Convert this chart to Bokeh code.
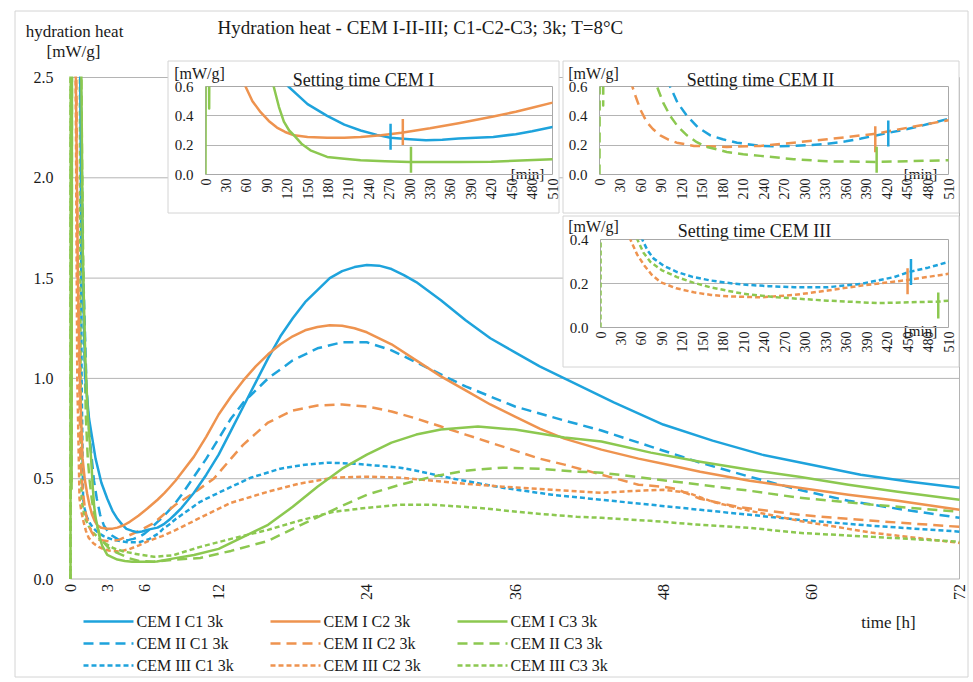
import math
from bokeh.plotting import figure
from bokeh.models import Range1d, LinearAxis, FixedTicker, PrintfTickFormatter, Grid
from bokeh.core.properties import value
from bokeh.embed import file_html
from bokeh.resources import INLINE

# ---------------- data ----------------
title_text = "Hydration heat - CEM I-II-III; C1-C2-C3; 3k; T=8°C"
y_label_1 = "hydration heat"
y_label_2 = "[mW/g]"
x_label = "time [h]"
inset_x_label = "[min]"
x_ticks = [0, 3, 6, 12, 24, 36, 48, 60, 72]
y_ticks = [0.0, 0.5, 1.0, 1.5, 2.0, 2.5]
inset_x_ticks = [0, 30, 60, 90, 120, 150, 180, 210, 240, 270, 300, 330, 360, 390, 420, 450, 480, 510]
inset_y_ticks_a = [0.0, 0.2, 0.4, 0.6]
inset_y_ticks_b = [0.0, 0.2, 0.4]
inset_titles = ["Setting time CEM I", "Setting time CEM II", "Setting time CEM III"]

series_names = ["CEM I C1 3k", "CEM I C2 3k", "CEM I C3 3k",
                "CEM II C1 3k", "CEM II C2 3k", "CEM II C3 3k",
                "CEM III C1 3k", "CEM III C2 3k", "CEM III C3 3k"]

# hours / mW/g  (2.7 = off the top of the 0-2.5 scale)
t_i_c1 = [0, 0.75, 0.85, 1.0, 1.2, 1.5, 2.03, 2.5, 2.98, 3.4, 3.8, 4.2, 4.53, 5.0, 5.4, 5.8, 6.2, 7.05, 7.6, 8.0, 8.5, 9.0, 10.0, 11.0, 12.0, 13.0, 14.0, 15.0, 16.0, 17.0, 18.0, 19.0, 20.0, 21.0, 22.0, 23.0, 24.0, 25.0, 26.0, 27.0, 28.0, 30.0, 32.0, 34.0, 36.0, 38.0, 40.0, 44.0, 48.0, 52.0, 56.0, 60.0, 64.0, 68.0, 72.0]
v_i_c1 = [2.7, 2.7, 2.2, 1.5, 1.0, 0.8, 0.6, 0.48, 0.40, 0.34, 0.30, 0.27, 0.25, 0.24, 0.233, 0.237, 0.245, 0.256, 0.275, 0.295, 0.324, 0.355, 0.43, 0.52, 0.62, 0.74, 0.86, 0.98, 1.10, 1.21, 1.30, 1.38, 1.44, 1.50, 1.535, 1.555, 1.565, 1.562, 1.545, 1.515, 1.48, 1.39, 1.29, 1.20, 1.13, 1.06, 1.00, 0.88, 0.77, 0.69, 0.62, 0.57, 0.52, 0.485, 0.455]

t_i_c2 = [0, 0.4, 0.6, 0.8, 0.98, 1.15, 1.35, 1.55, 1.75, 1.95, 2.17, 2.5, 2.98, 3.4, 3.8, 4.3, 4.8, 5.5, 6.2, 7.05, 7.6, 8.0, 8.5, 9.0, 10.0, 11.0, 12.0, 13.0, 14.0, 15.0, 16.0, 17.0, 18.0, 19.0, 20.0, 21.0, 22.0, 23.0, 24.0, 26.0, 28.0, 30.0, 32.0, 34.0, 36.0, 38.0, 40.0, 43.0, 46.0, 48.0, 51.0, 55.0, 59.0, 63.0, 67.0, 72.0]
v_i_c2 = [2.7, 2.7, 1.5, 0.9, 0.6, 0.5, 0.425, 0.365, 0.32, 0.29, 0.267, 0.255, 0.25, 0.251, 0.256, 0.268, 0.285, 0.315, 0.35, 0.395, 0.428, 0.455, 0.49, 0.53, 0.61, 0.71, 0.82, 0.91, 0.99, 1.06, 1.12, 1.17, 1.21, 1.24, 1.256, 1.265, 1.262, 1.25, 1.23, 1.17, 1.09, 1.01, 0.94, 0.87, 0.81, 0.75, 0.70, 0.645, 0.60, 0.575, 0.535, 0.49, 0.455, 0.42, 0.39, 0.345]

t_i_c3 = [0, 0.02, 0.06, 0.09, 0.12, 0.16, 0.85, 1.0, 1.2, 1.4, 1.55, 1.67, 1.8, 1.92, 2.05, 2.17, 2.35, 2.57, 2.98, 3.4, 3.8, 4.4, 5.0, 6.2, 7.0, 8.5, 10.0, 12.0, 14.0, 16.0, 18.0, 20.0, 22.0, 24.0, 26.0, 28.0, 30.0, 33.0, 36.0, 38.0, 40.0, 43.0, 47.0, 51.0, 55.0, 59.0, 63.0, 67.0, 72.0]
v_i_c3 = [0.0, 2.7, 2.7, 0.45, 2.7, 2.7, 2.7, 1.6, 1.1, 0.82, 0.69, 0.6, 0.46, 0.36, 0.3, 0.267, 0.21, 0.165, 0.12, 0.108, 0.097, 0.09, 0.086, 0.086, 0.087, 0.104, 0.12, 0.15, 0.21, 0.27, 0.36, 0.46, 0.55, 0.62, 0.68, 0.72, 0.745, 0.76, 0.745, 0.725, 0.705, 0.685, 0.63, 0.585, 0.545, 0.51, 0.47, 0.435, 0.395]

t_ii_c1 = [0, 0.8, 1.0, 1.3, 1.5, 1.72, 1.9, 2.13, 2.4, 2.7, 3.0, 3.35, 3.92, 4.3, 4.73, 5.1, 5.55, 6.0, 6.37, 7.05, 7.5, 7.98, 8.5, 9.0, 10.0, 11.0, 12.0, 13.0, 14.0, 16.0, 18.0, 20.0, 22.0, 24.0, 26.0, 28.0, 30.0, 32.0, 34.0, 36.0, 40.0, 43.0, 47.0, 51.0, 55.0, 59.0, 63.0, 67.0, 72.0]
v_ii_c1 = [2.7, 2.7, 1.6, 0.95, 0.75, 0.6, 0.49, 0.40, 0.32, 0.267, 0.24, 0.217, 0.195, 0.192, 0.195, 0.2, 0.21, 0.226, 0.245, 0.285, 0.31, 0.342, 0.38, 0.42, 0.51, 0.6, 0.7, 0.8, 0.88, 1.0, 1.09, 1.15, 1.18, 1.18, 1.14, 1.08, 1.02, 0.96, 0.91, 0.86, 0.79, 0.74, 0.66, 0.58, 0.51, 0.445, 0.39, 0.35, 0.305]

t_ii_c2 = [0, 0.45, 0.6, 0.8, 0.87, 1.0, 1.15, 1.3, 1.48, 1.68, 1.88, 2.3, 3.1, 3.92, 4.73, 5.55, 6.73, 7.6, 8.5, 10.0, 11.6, 13.0, 14.0, 16.0, 18.0, 20.0, 22.0, 24.0, 26.0, 28.0, 30.0, 32.0, 34.0, 36.0, 38.0, 40.0, 43.0, 46.0, 48.0, 49.0, 51.0, 54.0, 59.0, 65.0, 72.0]
v_ii_c2 = [2.7, 2.7, 1.5, 0.6, 0.54, 0.44, 0.358, 0.31, 0.267, 0.238, 0.217, 0.195, 0.188, 0.195, 0.217, 0.24, 0.278, 0.324, 0.37, 0.43, 0.5, 0.6, 0.67, 0.78, 0.84, 0.865, 0.87, 0.86, 0.835, 0.8, 0.76, 0.72, 0.68, 0.64, 0.6, 0.57, 0.52, 0.47, 0.46, 0.45, 0.40, 0.36, 0.32, 0.29, 0.26]

t_ii_c3 = [0, 0.02, 0.06, 0.09, 0.12, 0.16, 0.85, 0.95, 1.1, 1.25, 1.4, 1.55, 1.72, 1.9, 2.13, 2.37, 2.62, 3.1, 3.5, 3.92, 4.73, 5.55, 6.73, 8.5, 10.5, 13.0, 16.0, 18.0, 21.3, 24.0, 26.7, 29.3, 32.0, 35.0, 38.0, 41.0, 43.0, 47.0, 51.0, 55.0, 59.0, 65.0, 72.0]
v_ii_c3 = [0.0, 2.7, 2.7, 0.47, 2.7, 2.7, 2.7, 2.0, 1.2, 0.8, 0.6, 0.49, 0.4, 0.33, 0.267, 0.22, 0.188, 0.154, 0.138, 0.127, 0.104, 0.09, 0.086, 0.097, 0.105, 0.14, 0.19, 0.25, 0.345, 0.42, 0.47, 0.51, 0.54, 0.555, 0.55, 0.535, 0.53, 0.5, 0.47, 0.44, 0.405, 0.37, 0.335]

t_iii_c1 = [0, 0.8, 0.9, 1.02, 1.15, 1.3, 1.55, 1.87, 2.25, 2.68, 3.1, 3.5, 4.1, 4.73, 5.55, 6.35, 7.17, 7.53, 8.0, 8.5, 10.5, 12.0, 14.6, 17.0, 19.0, 20.8, 23.0, 26.7, 28.0, 31.0, 35.0, 39.0, 43.0, 47.0, 51.0, 55.0, 59.0, 65.0, 72.0]
v_iii_c1 = [2.7, 2.7, 1.0, 0.4, 0.35, 0.313, 0.28, 0.252, 0.23, 0.214, 0.203, 0.195, 0.188, 0.183, 0.183, 0.198, 0.229, 0.252, 0.272, 0.298, 0.385, 0.43, 0.505, 0.55, 0.57, 0.58, 0.575, 0.555, 0.54, 0.5, 0.455, 0.42, 0.395, 0.37, 0.345, 0.32, 0.295, 0.265, 0.236]

t_iii_c2 = [0, 0.4, 0.55, 0.73, 0.9, 1.07, 1.25, 1.47, 1.85, 2.28, 2.7, 3.1, 3.92, 4.73, 5.55, 6.35, 7.42, 8.5, 10.5, 13.0, 16.0, 18.5, 21.3, 24.0, 26.7, 31.0, 35.0, 39.0, 43.0, 46.0, 48.0, 50.0, 52.0, 55.0, 59.0, 65.0, 72.0]
v_iii_c2 = [2.7, 2.7, 1.0, 0.4, 0.33, 0.282, 0.24, 0.206, 0.178, 0.16, 0.148, 0.142, 0.137, 0.148, 0.168, 0.19, 0.214, 0.244, 0.305, 0.38, 0.435, 0.475, 0.505, 0.51, 0.505, 0.48, 0.46, 0.445, 0.43, 0.44, 0.445, 0.43, 0.385, 0.34, 0.29, 0.23, 0.18]

t_iii_c3 = [0, 0.02, 0.75, 0.82, 0.9, 1.05, 1.22, 1.5, 1.87, 2.25, 2.68, 3.1, 3.5, 4.32, 5.55, 6.77, 8.27, 8.5, 10.5, 13.0, 16.0, 18.5, 21.3, 24.0, 26.7, 29.3, 33.0, 37.0, 41.0, 43.0, 47.0, 51.0, 55.0, 59.0, 65.0, 72.0]
v_iii_c3 = [0.0, 2.7, 2.7, 1.0, 0.4, 0.34, 0.298, 0.26, 0.229, 0.205, 0.183, 0.167, 0.153, 0.137, 0.122, 0.111, 0.118, 0.122, 0.16, 0.2, 0.245, 0.29, 0.335, 0.355, 0.37, 0.37, 0.355, 0.33, 0.31, 0.305, 0.29, 0.27, 0.255, 0.23, 0.21, 0.186]

# setting times [min] (C1, C2, C3) and the curve value at that time
set_t_i = [272, 290, 302]
set_v_i = [0.257, 0.29, 0.10]
set_t_ii = [422, 403, 405]
set_v_ii = [0.28, 0.24, 0.10]
set_t_iii = [455, 450, 495]
set_v_iii = [0.252, 0.21, 0.10]

# ---------------- styles ----------------
W, H = 973, 682
SERIF = "Liberation Serif"
BLUE, ORANGE, GREEN = "#1ea3dc", "#ee934f", "#8cc850"
GRID = "#b4b4b4"
FRAME = "#a8a8a8"
BORDER = "#d4d4d4"
TXT = "#1a1a1a"
LW = 2.5
colors = [BLUE, ORANGE, GREEN]
dashes = ["solid", "10 6", "5 3"]

series = [
    (t_i_c1, v_i_c1), (t_i_c2, v_i_c2), (t_i_c3, v_i_c3),
    (t_ii_c1, v_ii_c1), (t_ii_c2, v_ii_c2), (t_ii_c3, v_ii_c3),
    (t_iii_c1, v_iii_c1), (t_iii_c2, v_iii_c2), (t_iii_c3, v_iii_c3),
]

# ---------------- main chart (its frame is the whole picture) ----------------
MX0, MX1, MY0, MY1 = 70.0, 959.0, 578.5, 77.0   # pixel box of the data area
x_lo, x_hi = x_ticks[0], x_ticks[-1]
y_lo, y_hi = y_ticks[0], y_ticks[-1]
kx = (MX1 - MX0) / (x_hi - x_lo)
ky = (MY0 - MY1) / (y_hi - y_lo)


def mx(X):
    return x_lo + (X - MX0) / kx


def my(Y):
    return y_lo + (MY0 - Y) / ky


def txt(fig, X, Y, s, size, align="center", angle=0.0):
    fig.text(x=[mx(X)], y=[my(Y)], text=[s], angle=angle, text_align=align,
             text_baseline="middle", text_font=value(SERIF), text_font_size=size,
             text_color=TXT)


p = figure(width=W, height=H, x_range=Range1d(mx(0), mx(W)), y_range=Range1d(my(H), my(0)),
           x_axis_type=None, y_axis_type=None, toolbar_location=None, output_backend="svg",
           min_border=0, outline_line_color=None)
p.title.text = ""
p.title.visible = False

# grid lines, right border and axis lines
n = len(y_ticks) - 1
p.segment(x0=[x_lo] * n, x1=[x_hi] * n, y0=y_ticks[1:], y1=y_ticks[1:], line_color=GRID, line_width=1)
p.segment(x0=[x_hi, x_lo, x_lo], x1=[x_hi, x_lo, x_hi], y0=[y_lo, y_lo, y_lo],
          y1=[y_hi, y_hi, y_lo], line_color=GRID, line_width=1)

# curves (dashed CEM III first, solid CEM I on top)
for k in [6, 7, 8, 3, 4, 5, 0, 1, 2]:
    t, v = series[k]
    p.line(t, v, line_color=colors[k % 3], line_width=LW, line_dash=dashes[k // 3],
           line_join="round")

# white mask above the top of the value axis (the early spikes run off the chart)
p.quad(left=[mx(-5)], right=[mx(W + 5)], bottom=[y_hi + 1.0 / ky], top=[my(-5)],
       fill_color="white", line_color=None)

# tick labels of the main axes
p.text(x=[mx(MX0 - 17)] * len(y_ticks), y=y_ticks, text=[f"{v:.1f}" for v in y_ticks],
       text_align="right", text_baseline="middle", text_font=value(SERIF),
       text_font_size="16px", text_color=TXT)
p.text(x=x_ticks, y=[my(MY0 + 5)] * len(x_ticks), text=[str(v) for v in x_ticks],
       angle=math.pi / 2, text_align="right", text_baseline="middle", text_font=value(SERIF),
       text_font_size="16px", text_color=TXT)

# outer frame of the whole picture
p.quad(left=[mx(14.5)], right=[mx(967.5)], bottom=[my(676.5)], top=[my(10.5)],
       fill_alpha=0, line_color=BORDER, line_width=1)

txt(p, 420, 27, title_text, "19px")
txt(p, 74, 31, y_label_1, "17px")
txt(p, 73, 51, y_label_2, "17px")
txt(p, 888, 622, x_label, "17px")

# legend (3 rows = CEM I/II/III, 3 columns = C1/C2/C3)
leg_col_x = [83, 270, 457]
leg_row_y = [621, 643, 665]
for k, name in enumerate(series_names):
    r, c = k // 3, k % 3
    X0 = leg_col_x[c]
    Y = leg_row_y[r]
    p.line([mx(X0), mx(X0 + 50)], [my(Y), my(Y)], line_color=colors[c], line_width=LW,
           line_dash=dashes[r])
    txt(p, X0 + 53, Y, name, "16px", align="left")


# ---------------- insets ----------------
# white boxes and the inset texts are drawn on the main chart; each inset is a
# transparent figure laid over it that draws the grid, curves, markers and ticks.
PAD = 10


def make_inset(box, frame, yticks, title, title_xy, unit_xy, min_xy, group, set_t, set_v):
    bl, bt, br, bb = box
    fl, ft, fr, fb = frame
    p.quad(left=[mx(bl + 0.5)], right=[mx(br + 0.5)], bottom=[my(bb + 0.5)], top=[my(bt + 0.5)],
           fill_color="white", line_color=BORDER, line_width=1)
    txt(p, title_xy[0], title_xy[1], title, "18px")
    txt(p, unit_xy[0], unit_xy[1], y_label_2, "16px")
    txt(p, min_xy[0], min_xy[1], inset_x_label, "15px")

    hl, ht = bl + 1 - PAD, bt + 1 - PAD
    cw, ch = (br - bl - 1) + 2 * PAD, (bb - bt - 1) + 2 * PAD
    xmax = inset_x_ticks[-1]
    ymax = yticks[-1]
    f = figure(width=cw, height=ch, x_range=Range1d(0, xmax), y_range=Range1d(0, ymax),
               x_axis_type=None, y_axis_type=None, toolbar_location=None, output_backend="svg",
               min_border_left=fl - hl, min_border_right=(hl + cw) - fr,
               min_border_top=ft - ht, min_border_bottom=(ht + ch) - fb,
               outline_line_color=FRAME, outline_line_width=1,
               background_fill_color=None, border_fill_color=None,
               styles={"position": "absolute", "left": f"{hl}px", "top": f"{ht}px",
                       "z-index": "2", "background": "transparent"})
    f.title.text = ""
    f.title.visible = False
    iky = (fb - ft) / ymax

    ya = LinearAxis(ticker=FixedTicker(ticks=yticks), formatter=PrintfTickFormatter(format="%.1f"),
                    axis_line_color=None, major_tick_line_color=None, minor_tick_line_color=None,
                    major_tick_out=0, major_label_standoff=12, major_label_text_font=SERIF,
                    major_label_text_font_size="15px", major_label_text_color=TXT)
    f.add_layout(ya, "left")
    xa = LinearAxis(ticker=FixedTicker(ticks=inset_x_ticks), axis_line_color=None,
                    major_tick_line_color=None, minor_tick_line_color=None, major_tick_out=0,
                    major_label_orientation=math.pi / 2, major_label_standoff=4,
                    major_label_text_font=SERIF, major_label_text_font_size="14px",
                    major_label_text_color=TXT)
    f.add_layout(xa, "below")
    f.add_layout(Grid(dimension=1, ticker=ya.ticker, grid_line_color=GRID, grid_line_width=1))

    for c in range(3):
        k = group * 3 + c
        t, v = series[k]
        f.line([ti * 60 for ti in t], v, line_color=colors[c], line_width=LW,
               line_dash=dashes[group], line_join="round")
    dv = 13 / iky
    f.segment(x0=set_t, x1=set_t, y0=[v - dv for v in set_v], y1=[v + dv for v in set_v],
              line_color=colors, line_width=LW)
    return f


i1 = make_inset((167, 60, 558, 212), (205, 86, 552, 174), inset_y_ticks_a, inset_titles[0],
                (363, 79), (199, 73), (527, 173), 0, set_t_i, set_v_i)
i2 = make_inset((562, 60, 958, 212), (599, 86, 948, 174), inset_y_ticks_a, inset_titles[1],
                (760, 79), (593, 73), (920, 173), 1, set_t_ii, set_v_ii)
i3 = make_inset((562, 215, 958, 366), (600, 239, 948, 327), inset_y_ticks_b, inset_titles[2],
                (754, 230), (593, 226), (920, 330), 2, set_t_iii, set_v_iii)

# separate roots: the main chart in normal flow, the insets absolutely positioned over it
open("out.html", "w").write(file_html([p, i1, i2, i3], INLINE))
